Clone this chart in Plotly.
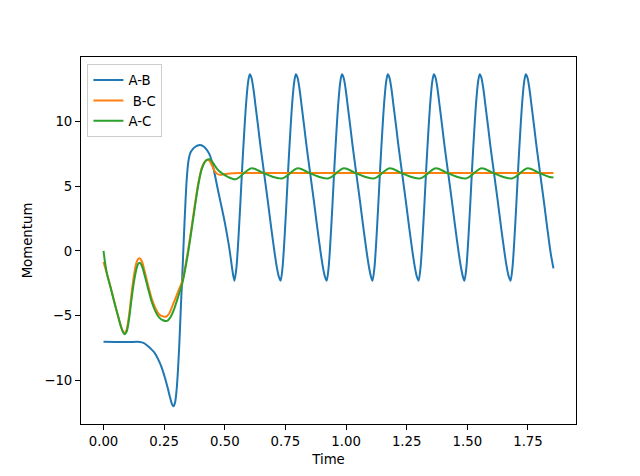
import plotly.graph_objects as go

# A-B momentum
t_ab = [0.000, 0.050, 0.100, 0.150, 0.165, 0.180, 0.195, 0.210, 0.225, 0.240,
        0.255, 0.265, 0.275, 0.283, 0.289, 0.295, 0.301, 0.307, 0.313, 0.319,
        0.325, 0.331, 0.337, 0.343, 0.350, 0.358, 0.368, 0.380, 0.392, 0.403,
        0.413, 0.421, 0.431, 0.441, 0.448, 0.455, 0.462, 0.469, 0.482, 0.500,
        0.517, 0.527, 0.534,
        0.540, 0.548, 0.556, 0.564, 0.572, 0.580, 0.588, 0.596, 0.603, 0.610,
        0.618, 0.628, 0.638, 0.647, 0.662, 0.677, 0.692, 0.705, 0.715, 0.723,
        0.730, 0.738, 0.746, 0.754, 0.762, 0.770, 0.778, 0.786, 0.793, 0.800,
        0.808, 0.818, 0.828, 0.837, 0.852, 0.867, 0.882, 0.895, 0.905, 0.913,
        0.920, 0.928, 0.936, 0.944, 0.952, 0.960, 0.968, 0.976, 0.983, 0.990,
        0.998, 1.008, 1.018, 1.027, 1.042, 1.057, 1.072, 1.085, 1.095, 1.103,
        1.109, 1.117, 1.125, 1.133, 1.141, 1.149, 1.157, 1.165, 1.172, 1.179,
        1.187, 1.197, 1.207, 1.216, 1.231, 1.246, 1.261, 1.274, 1.284, 1.292,
        1.299, 1.307, 1.315, 1.323, 1.331, 1.339, 1.347, 1.355, 1.362, 1.369,
        1.377, 1.387, 1.397, 1.406, 1.421, 1.436, 1.451, 1.464, 1.474, 1.482,
        1.488, 1.496, 1.504, 1.512, 1.520, 1.528, 1.536, 1.544, 1.551, 1.558,
        1.566, 1.576, 1.586, 1.595, 1.610, 1.625, 1.640, 1.653, 1.663, 1.671,
        1.678, 1.686, 1.694, 1.702, 1.710, 1.718, 1.726, 1.734, 1.741, 1.748,
        1.756, 1.766, 1.776, 1.785, 1.800, 1.815, 1.830, 1.843, 1.855]
p_ab = [-7.00, -7.02, -7.03, -7.02, -7.10, -7.30, -7.55, -7.85, -8.35, -9.00,
        -9.90, -10.60, -11.35, -11.85, -11.98, -11.70, -10.80, -9.20, -7.00, -4.30,
        -1.80, 0.90, 3.40, 5.50, 6.90, 7.55, 7.85, 8.05, 8.15, 8.15,
        8.05, 7.90, 7.65, 7.26, 6.80, 6.23, 5.60, 4.95, 3.80, 2.20,
        0.40, -0.90, -1.80,
        -2.30, -1.30, 0.90, 3.60, 6.50, 9.10, 11.40, 13.00, 13.62, 13.35,
        12.50, 11.00, 9.50, 8.10, 6.00, 3.90, 1.70, -0.10, -1.30, -2.00,
        -2.30, -1.30, 0.90, 3.60, 6.50, 9.10, 11.40, 13.00, 13.62, 13.35,
        12.50, 11.00, 9.50, 8.10, 6.00, 3.90, 1.70, -0.10, -1.30, -2.00,
        -2.30, -1.30, 0.90, 3.60, 6.50, 9.10, 11.40, 13.00, 13.62, 13.35,
        12.50, 11.00, 9.50, 8.10, 6.00, 3.90, 1.70, -0.10, -1.30, -2.00,
        -2.30, -1.30, 0.90, 3.60, 6.50, 9.10, 11.40, 13.00, 13.62, 13.35,
        12.50, 11.00, 9.50, 8.10, 6.00, 3.90, 1.70, -0.10, -1.30, -2.00,
        -2.30, -1.30, 0.90, 3.60, 6.50, 9.10, 11.40, 13.00, 13.62, 13.35,
        12.50, 11.00, 9.50, 8.10, 6.00, 3.90, 1.70, -0.10, -1.30, -2.00,
        -2.30, -1.30, 0.90, 3.60, 6.50, 9.10, 11.40, 13.00, 13.62, 13.35,
        12.50, 11.00, 9.50, 8.10, 6.00, 3.90, 1.70, -0.10, -1.30, -2.00,
        -2.30, -1.30, 0.90, 3.60, 6.50, 9.10, 11.40, 13.00, 13.62, 13.35,
        12.50, 11.00, 9.50, 8.10, 6.00, 3.90, 1.70, -0.10, -1.35]

# B-C momentum
t_bc = [0.000, 0.014, 0.030, 0.045, 0.060, 0.072, 0.080, 0.087, 0.095, 0.105,
        0.115, 0.125, 0.135, 0.143, 0.150, 0.158, 0.170, 0.185, 0.200, 0.215,
        0.230, 0.245, 0.258, 0.270, 0.285, 0.305, 0.325, 0.340, 0.355, 0.373,
        0.390, 0.405, 0.418, 0.430, 0.437, 0.447, 0.457, 0.469, 0.480, 0.495,
        0.520, 0.560, 0.800, 1.100, 1.400, 1.700, 1.855]
p_bc = [-0.85, -1.75, -2.85, -3.95, -5.00, -5.80, -6.20, -6.33, -6.10, -5.00,
        -3.40, -1.95, -0.95, -0.62, -0.58, -0.80, -1.60, -2.75, -3.75, -4.45,
        -4.90, -5.05, -5.08, -4.85, -4.20, -3.25, -2.30, -0.90, 0.80, 3.10,
        5.15, 6.40, 6.90, 7.02, 6.95, 6.60, 6.20, 5.93, 5.87, 5.90,
        5.97, 6.00, 6.00, 6.00, 6.00, 6.00, 6.00]

# A-C momentum
t_ac = [0.000, 0.006, 0.014, 0.030, 0.045, 0.060, 0.072, 0.080, 0.088, 0.096,
        0.105, 0.115, 0.125, 0.135, 0.143, 0.150, 0.158, 0.170, 0.185, 0.200,
        0.215, 0.230, 0.245, 0.262, 0.275, 0.290, 0.305, 0.325, 0.340, 0.355,
        0.373, 0.390, 0.405, 0.418, 0.428, 0.437, 0.447, 0.458, 0.469, 0.479,
        0.489, 0.503, 0.517, 0.530,
        0.544, 0.557, 0.569, 0.581, 0.593, 0.603, 0.611, 0.623, 0.640, 0.660,
        0.680, 0.700, 0.717, 0.728,
        0.735, 0.747, 0.759, 0.771, 0.783, 0.793, 0.801, 0.813, 0.830, 0.850,
        0.870, 0.890, 0.907, 0.918,
        0.925, 0.937, 0.949, 0.961, 0.973, 0.983, 0.991, 1.003, 1.020, 1.040,
        1.060, 1.080, 1.097, 1.108,
        1.114, 1.126, 1.138, 1.150, 1.162, 1.172, 1.180, 1.192, 1.209, 1.229,
        1.249, 1.269, 1.286, 1.297,
        1.304, 1.316, 1.328, 1.340, 1.352, 1.362, 1.370, 1.382, 1.399, 1.419,
        1.439, 1.459, 1.476, 1.487,
        1.493, 1.505, 1.517, 1.529, 1.541, 1.551, 1.559, 1.571, 1.588, 1.608,
        1.628, 1.648, 1.665, 1.676,
        1.683, 1.695, 1.707, 1.719, 1.731, 1.741, 1.749, 1.761, 1.778, 1.798,
        1.818, 1.838, 1.855]
p_ac = [0.00, -0.85, -1.75, -2.90, -4.00, -5.05, -5.85, -6.25, -6.42, -6.20,
        -5.30, -3.80, -2.45, -1.45, -1.00, -0.92, -1.15, -1.90, -3.00, -4.00,
        -4.70, -5.15, -5.35, -5.40, -5.15, -4.55, -3.70, -2.50, -1.10, 0.60,
        2.90, 5.00, 6.30, 6.85, 7.03, 7.06, 6.90, 6.60, 6.30, 6.12,
        5.98, 5.80, 5.67, 5.57,
        5.52, 5.64, 5.82, 6.02, 6.20, 6.33, 6.37, 6.33, 6.18, 6.00,
        5.84, 5.70, 5.62, 5.59,
        5.58, 5.66, 5.82, 6.02, 6.20, 6.33, 6.37, 6.33, 6.18, 6.00,
        5.84, 5.70, 5.62, 5.59,
        5.58, 5.66, 5.82, 6.02, 6.20, 6.33, 6.37, 6.33, 6.18, 6.00,
        5.84, 5.70, 5.62, 5.59,
        5.58, 5.66, 5.82, 6.02, 6.20, 6.33, 6.37, 6.33, 6.18, 6.00,
        5.84, 5.70, 5.62, 5.59,
        5.58, 5.66, 5.82, 6.02, 6.20, 6.33, 6.37, 6.33, 6.18, 6.00,
        5.84, 5.70, 5.62, 5.59,
        5.58, 5.66, 5.82, 6.02, 6.20, 6.33, 6.37, 6.33, 6.18, 6.00,
        5.84, 5.70, 5.62, 5.59,
        5.58, 5.66, 5.82, 6.02, 6.20, 6.33, 6.37, 6.33, 6.18, 6.00,
        5.84, 5.70, 5.65]

x_ticks = [0.00, 0.25, 0.50, 0.75, 1.00, 1.25, 1.50, 1.75]
y_ticks = [-10, -5, 0, 5, 10]

font = dict(family='DejaVu Sans', size=13.3, color='black')

fig = go.Figure()

fig.add_trace(go.Scatter(x=t_ab, y=p_ab, mode='lines', name='A-B',
                         line=dict(color='#1f77b4', width=2, shape='spline', smoothing=0.8)))
fig.add_trace(go.Scatter(x=t_bc, y=p_bc, mode='lines', name='\u00a0B-C',
                         line=dict(color='#ff7f0e', width=2, shape='spline', smoothing=0.8)))
fig.add_trace(go.Scatter(x=t_ac, y=p_ac, mode='lines', name='A-C',
                         line=dict(color='#2ca02c', width=2, shape='spline', smoothing=0.8)))

axis_style = dict(showgrid=False, zeroline=False, showline=True, linecolor='black',
                  linewidth=1, mirror=True, ticks='outside', ticklen=5, tickwidth=1,
                  tickcolor='black', tickfont=font)

fig.update_layout(
    width=640, height=476,
    margin=dict(l=81, r=64, t=57, b=52),
    paper_bgcolor='white',
    plot_bgcolor='white',
    font=font,
    showlegend=True,
    legend=dict(x=0.013, y=0.981, xanchor='left', yanchor='top',
                bgcolor='white', bordercolor='#cccccc', borderwidth=1,
                font=font, itemwidth=30, tracegroupgap=0),
    xaxis=dict(axis_style, range=[-0.0928, 1.948], tickvals=x_ticks,
               tickformat='.2f', title=dict(text='Time', font=font, standoff=6)),
    yaxis=dict(axis_style, range=[-13.35, 14.95], tickvals=y_ticks,
               title=dict(text='Momentum', font=font, standoff=8)),
)

# drop the page's default body margin so the figure sits at the window corner
fig.write_html('out.html', config={'displayModeBar': False},
               post_script="document.body.style.margin='0';")
